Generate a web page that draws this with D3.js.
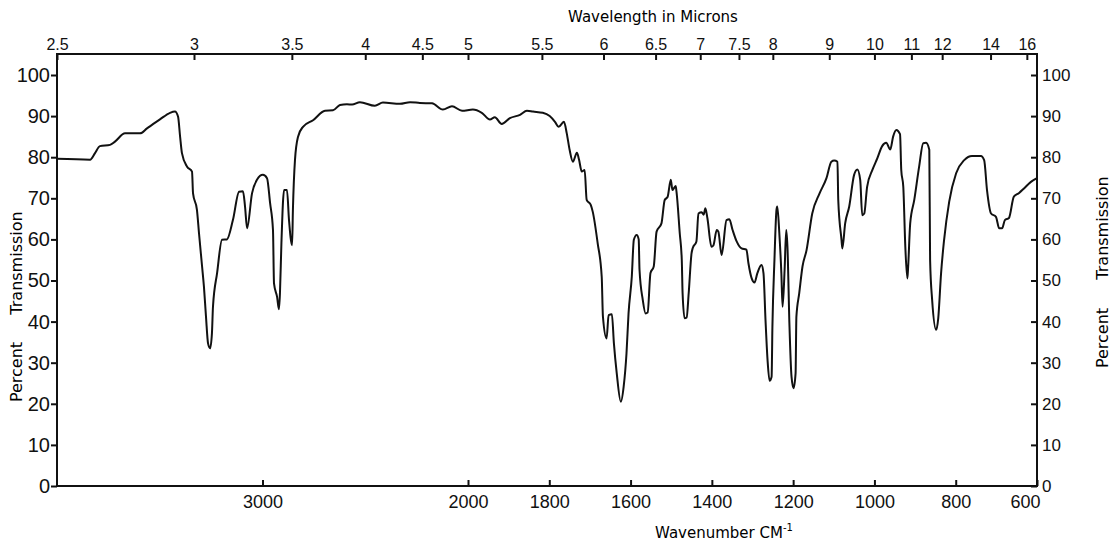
<!DOCTYPE html>
<html>
<head>
<meta charset="utf-8">
<script src="https://cdn.jsdelivr.net/npm/d3@7"></script>
<style>
  body { margin: 0; background: #fff; }
  svg { display: block; font-family: "DejaVu Sans", sans-serif; }
  .axis path { display: none; }
  .axis line { stroke: #111; stroke-width: 2; }
  .axis text { fill: #111; }
</style>
</head>
<body>
<script>
// spectrum (wavenumber cm-1, % transmission)
let wavenumber = [4000,3839,3815,3791,3742,3718,3669,3596,3562,3499,3450,3426,3411,3401,3392,3367,3343,3338,3319,3309,3294,3285,3275,3265,3255,3246,3241,3221,3197,3173,3144,3114,3095,3085,3075,3051,3027,2998,2978,2963,2949,2944,2929,2920,2915,2908,2895,2881,2871,2856,2852,2842,2827,2803,2754,2696,2657,2623,2589,2564,2526,2453,2414,2331,2282,2234,2175,2122,2078,2029,1988,1966,1946,1934,1917,1897,1872,1855,1840,1816,1799,1786,1777,1764,1757,1750,1742,1732,1727,1720,1713,1708,1698,1693,1681,1671,1668,1659,1654,1646,1641,1634,1624,1617,1610,1605,1597,1592,1585,1580,1578,1570,1563,1558,1551,1543,1536,1524,1516,1509,1501,1497,1489,1487,1479,1474,1472,1467,1462,1457,1450,1447,1438,1433,1425,1420,1416,1411,1401,1396,1388,1384,1376,1364,1357,1349,1339,1327,1315,1310,1302,1295,1288,1278,1273,1268,1263,1258,1253,1251,1246,1241,1239,1234,1229,1226,1221,1217,1214,1209,1204,1199,1194,1192,1185,1177,1167,1153,1135,1118,1106,1099,1091,1089,1081,1079,1072,1062,1050,1042,1035,1030,1025,1018,1005,993,981,971,961,954,946,937,934,929,924,919,917,912,902,890,880,873,865,863,858,848,843,836,829,816,799,779,760,738,730,723,713,701,693,686,679,669,657,644,632,615,600];
let transmission = [79.6,79.4,81,82.7,83,83.8,85.8,85.8,87,89.2,90.8,91.1,89.9,85,81,77.7,76.5,71.2,67.2,61.5,53.4,48.5,41.2,34.7,33.5,37.2,43.6,51.8,59.9,60,64.7,71.6,71.7,68,62.7,71.2,74.5,75.7,74.9,68.8,62.3,49.3,46,43,47,59,72,72,64.7,58.6,67.2,79.3,85,87.4,89,91.3,91.4,92.7,92.9,92.8,93.4,92.5,93.3,93,93.4,93.2,93.1,91.6,92.4,91.3,91.6,90.8,89.2,89.7,88.1,89.5,90.3,91.3,91.1,90.8,90,88.6,87.4,88.6,85.8,81.8,78.9,81.1,79.5,76.5,76.9,69.6,68.4,66.7,59.1,50.9,41.2,35.9,41.6,41.8,34.7,27.4,20.5,24.2,32.3,42,50.9,59.9,61.1,60,52.6,45.3,42,42.2,51.8,53.4,61.9,63.9,69.6,70.3,74.5,72,73,71.6,61.5,55,46.9,40.8,41,46.9,56.6,57.9,59.5,66.3,66.6,66,67.6,65.2,58.2,58.6,62.3,61.9,56.2,64.7,64.9,62.3,59.5,57.8,57.5,54.2,50.5,49.5,51.8,53.8,51.8,40.4,30.7,25.6,26.6,38.8,55,67.2,68,61.5,51.8,43.6,52.6,62.3,58.2,38.8,26.6,23.8,27.4,41.2,46.9,53.4,57.4,66.3,71.2,74.9,78.9,79.2,78.9,69.6,59.9,57.8,63.9,68,75.7,77,74.5,65.9,66.3,72.8,76.9,79.7,82.7,83.5,81.9,85,86.6,85.6,76.9,72.8,58.2,50.5,53.4,63.9,69.6,77.7,83.4,83.5,81.8,55,45.3,38,40.8,51.8,59.5,69.2,76.1,79.3,80.3,80.3,79.3,72,66.3,65.5,62.7,62.7,64.7,65.2,70.4,71.3,72.4,74,74.9];

let wavenumberTicks = [3000, 2000, 1800, 1600, 1400, 1200, 1000, 800, 600];
let micronTicks = ["2.5", "3", "3.5", "4", "4.5", "5", "5.5", "6", "6.5", "7", "7.5", "8", "9", "10", "11", "12", "14", "16"];
let percentTicks = [0, 10, 20, 30, 40, 50, 60, 70, 80, 90, 100];

var margin = { top: 54, right: 83, bottom: 57, left: 57 },
  width = 1120 - margin.left - margin.right,
  height = 543 - margin.top - margin.bottom;

var svg = d3.select("body").append("svg")
  .attr("width", 1120)
  .attr("height", 543);

var g = svg.append("g")
  .attr("transform", "translate(" + margin.left + "," + margin.top + ")");

// chart paper changes scale at 2000 cm-1
var x = d3.scaleLinear()
  .domain([4000, 2000, 600])
  .range([0, 411, width]);

var y = d3.scaleLinear()
  .domain([0, 100])
  .range([height, 21]);

// frame
g.append("rect")
  .attr("width", width)
  .attr("height", height)
  .attr("fill", "none")
  .attr("stroke", "#111")
  .attr("stroke-width", 2);

var yLeft = g.append("g").attr("class", "axis")
  .call(d3.axisLeft(y).tickValues(percentTicks).tickSize(6).tickPadding(1));
yLeft.selectAll("text").style("font-size", "20px");

var yRight = g.append("g").attr("class", "axis")
  .attr("transform", "translate(" + width + ",0)")
  .call(d3.axisRight(y).tickValues(percentTicks).tickSize(-6).tickPadding(5));
yRight.selectAll("text").style("font-size", "17px");

var xBottom = g.append("g").attr("class", "axis")
  .attr("transform", "translate(0," + height + ")")
  .call(d3.axisBottom(x).tickValues(wavenumberTicks).tickSize(-6).tickPadding(9).tickFormat(d3.format("d")));
xBottom.selectAll("text").style("font-size", "18px")
  .attr("text-anchor", d => d == 600 ? "end" : "middle")
  .attr("dx", d => d == 600 ? 3 : 0);

var xTop = g.append("g").attr("class", "axis")
  .call(d3.axisTop(x).tickValues(micronTicks.map(m => 10000 / +m)).tickSize(-6).tickPadding(4)
    .tickFormat((d, i) => micronTicks[i]));
xTop.selectAll("text").style("font-size", "16px");

// titles
svg.append("text")
  .attr("x", 653).attr("y", 22)
  .attr("text-anchor", "middle")
  .style("font-size", "15px")
  .text("Wavelength in Microns");

var xt = svg.append("text")
  .attr("x", 724).attr("y", 538)
  .attr("text-anchor", "middle")
  .style("font-size", "15px");
xt.append("tspan").text("Wavenumber CM");
xt.append("tspan").attr("dy", -7).style("font-size", "10px").text("-1");

[[22, 372, "Percent"], [22, 263, "Transmission"], [1108, 338, "Percent"], [1108, 228, "Transmission"]].forEach(function (t) {
  svg.append("text")
    .attr("transform", "translate(" + t[0] + "," + t[1] + ") rotate(-90)")
    .attr("text-anchor", "middle")
    .style("font-size", "16px")
    .text(t[2]);
});

// spectrum trace
var line = d3.line()
  .x(function (d) { return x(d[0]); })
  .y(function (d) { return y(d[1]); })
  .curve(d3.curveMonotoneX);

g.append("path")
  .datum(d3.zip(wavenumber, transmission))
  .attr("fill", "none")
  .attr("stroke", "#111")
  .attr("stroke-width", 2)
  .attr("stroke-linejoin", "round")
  .attr("d", line);
</script>
</body>
</html>
